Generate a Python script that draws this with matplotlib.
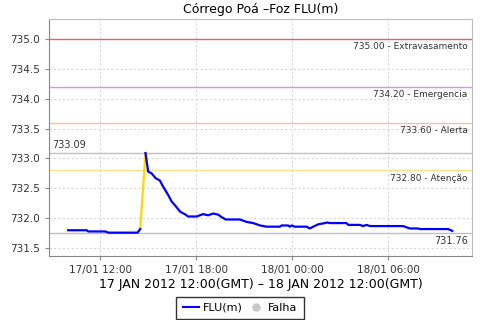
from datetime import datetime, timedelta
import matplotlib
matplotlib.use("Agg")
import matplotlib.pyplot as plt
import matplotlib.dates as mdates
from matplotlib.lines import Line2D

plt.rcParams['font.family'] = ['DejaVu Sans']

# leituras FLU(m) - 17/01 e 18/01 de 2012
hora_a = ["17/01 10:00", "17/01 11:10", "17/01 11:15", "17/01 12:20", "17/01 12:30",
          "17/01 14:20", "17/01 14:30"]
nivel_a = [731.80, 731.80, 731.78, 731.78, 731.76, 731.76, 731.82]

# trecho da falha
hora_falha = ["17/01 14:30", "17/01 14:50"]
nivel_falha = [731.82, 733.09]

hora_b = ["17/01 14:50", "17/01 15:00", "17/01 15:13", "17/01 15:28", "17/01 15:44",
          "17/01 15:56", "17/01 16:15", "17/01 16:28", "17/01 16:40", "17/01 17:00",
          "17/01 17:17", "17/01 17:30", "17/01 18:02", "17/01 18:14", "17/01 18:26",
          "17/01 18:45", "17/01 19:04", "17/01 19:23", "17/01 19:35", "17/01 19:51",
          "17/01 20:44", "17/01 21:09", "17/01 21:34", "17/01 22:00", "17/01 22:24",
          "17/01 23:14", "17/01 23:20", "17/01 23:45", "17/01 23:51", "17/01 23:58",
          "18/01 00:10", "18/01 00:54", "18/01 01:06", "18/01 01:19", "18/01 01:38",
          "18/01 02:03", "18/01 02:11", "18/01 02:21", "18/01 03:24", "18/01 03:30",
          "18/01 04:14", "18/01 04:26", "18/01 04:39", "18/01 04:51", "18/01 06:56",
          "18/01 07:21", "18/01 07:53", "18/01 07:59", "18/01 09:45", "18/01 10:00"]
nivel_b = [733.09, 732.78, 732.75, 732.67, 732.63,
           732.53, 732.39, 732.28, 732.22, 732.11,
           732.07, 732.03, 732.03, 732.05, 732.07,
           732.05, 732.08, 732.06, 732.02, 731.98,
           731.98, 731.94, 731.92, 731.88, 731.86,
           731.86, 731.88, 731.88, 731.86, 731.88,
           731.86, 731.86, 731.83, 731.86, 731.90,
           731.92, 731.93, 731.92, 731.92, 731.89,
           731.89, 731.87, 731.89, 731.87, 731.87,
           731.83, 731.83, 731.82, 731.82, 731.79]

cotas = [735.00, 734.20, 733.60, 732.80]
cotas_nome = ["Extravasamento", "Emergencia", "Alerta", "Atenção"]
cotas_cor = ["#e06666", "#e98be9", "#f5c38e", "#f5e48a"]


def to_dt(lista):
    return [datetime.strptime(s + "/2012", "%d/%m %H:%M/%Y") for s in lista]


fig = plt.figure(figsize=(4.8, 3.2), dpi=100)
ax = fig.add_axes([0.102, 0.2, 0.881, 0.7406])

for v, nome, cor in zip(cotas, cotas_nome, cotas_cor):
    ax.axhline(v, color=cor, lw=1, zorder=2)
    ax.text(0.99, v - 0.06, "%.2f - %s" % (v, nome), transform=ax.get_yaxis_transform(),
            ha="right", va="top", fontsize=6.5, color="#333333")

todos = nivel_a + nivel_b
vmax, vmin = max(todos), min(todos)
ax.axhline(vmax, color="#c0c0c0", lw=1, zorder=2)
ax.axhline(vmin, color="#c0c0c0", lw=1, zorder=2)
ax.text(0.008, vmax + 0.05, "%.2f" % vmax, transform=ax.get_yaxis_transform(),
        ha="left", va="bottom", fontsize=7, color="#333333")
ax.text(0.99, vmin - 0.06, "%.2f" % vmin, transform=ax.get_yaxis_transform(),
        ha="right", va="top", fontsize=7, color="#333333")

ax.plot(to_dt(hora_a), nivel_a, color="#0000ff", lw=1.6, zorder=4)
ax.plot(to_dt(hora_falha), nivel_falha, color="#ffd700", lw=1.6, zorder=3)
ax.plot(to_dt(hora_b), nivel_b, color="#0000ff", lw=1.6, zorder=4)

t0 = datetime(2012, 1, 17, 12, 0)
ax.set_xlim(t0 - timedelta(hours=3.2), t0 + timedelta(hours=23.23))
ax.set_ylim(731.37, 735.33)
ax.set_yticks([731.5, 732.0, 732.5, 733.0, 733.5, 734.0, 734.5, 735.0])
ax.yaxis.set_major_formatter(plt.FormatStrFormatter("%.1f"))
ax.xaxis.set_major_locator(mdates.HourLocator(byhour=[0, 6, 12, 18]))
ax.xaxis.set_major_formatter(mdates.DateFormatter("%d/%m %H:%M"))

ax.grid(True, color="#d8d8d8", ls=(0, (2, 2)), lw=0.8)
ax.set_axisbelow(True)
ax.tick_params(labelsize=7.5, colors="#333333", length=3, color="#888888")
for s in ["left", "bottom"]:
    ax.spines[s].set_color("#888888")
for s in ["top", "right"]:
    ax.spines[s].set_color("#bbbbbb")

ax.set_title("Córrego Poá –Foz FLU(m)", fontsize=9, pad=4)
ax.set_xlabel("17 JAN 2012 12:00(GMT) – 18 JAN 2012 12:00(GMT)", fontsize=9, labelpad=2)

itens = [Line2D([], [], color="#0000ff", lw=1.5),
         Line2D([], [], color="#c8c8c8", marker="o", ls="none", markersize=5)]
fig.legend(itens, ["FLU(m)", "Falha"], loc="lower center", bbox_to_anchor=(0.5, 0.0),
           ncol=2, fontsize=8, frameon=True, fancybox=False, edgecolor="black",
           handlelength=1.5, handletextpad=0.3, columnspacing=0.5, borderpad=0.55,
           borderaxespad=0.1)

fig.savefig("out.png", dpi=100)
